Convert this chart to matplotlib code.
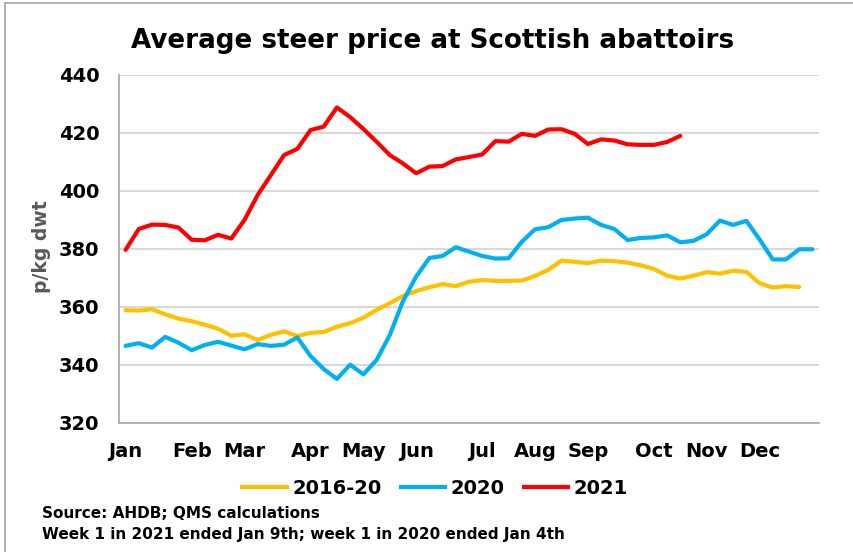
import numpy as np
import matplotlib.pyplot as plt
from matplotlib.lines import Line2D

# weekly steer prices, p/kg dwt
avg_2016_20 = [358.9, 358.8, 359.2, 357.5, 356.0, 355.1, 353.9, 352.5, 350.1, 350.6,
               348.6, 350.4, 351.6, 350.0, 351.1, 351.4, 353.2, 354.4, 356.3, 359.0,
               361.3, 363.8, 365.5, 366.8, 367.9, 367.2, 368.7, 369.3, 369.0, 369.0,
               369.1, 370.7, 372.8, 376.0, 375.6, 375.1, 376.0, 375.8, 375.3, 374.4,
               373.1, 370.8, 369.8, 370.8, 372.0, 371.5, 372.5, 372.1, 368.2, 366.7,
               367.2, 366.9]
y2020 = [346.6, 347.5, 346.0, 349.7, 347.7, 345.1, 346.9, 348.0, 346.7, 345.4,
         347.2, 346.6, 347.0, 349.5, 343.1, 338.6, 335.2, 340.1, 336.8, 341.7,
         350.3, 362.0, 370.5, 376.9, 377.6, 380.6, 379.1, 377.6, 376.7, 376.8,
         382.5, 386.8, 387.5, 390.0, 390.5, 390.8, 388.3, 386.9, 383.1, 383.8,
         384.0, 384.7, 382.3, 382.8, 385.1, 389.8, 388.3, 389.7, 383.3, 376.4,
         376.4, 379.9, 379.9]
y2021 = [379.7, 386.9, 388.4, 388.3, 387.4, 383.2, 383.0, 384.9, 383.6, 390.0,
         398.6, 405.5, 412.4, 414.5, 421.0, 422.2, 428.8, 425.5, 421.4, 417.0,
         412.4, 409.5, 406.1, 408.4, 408.6, 410.9, 411.7, 412.6, 417.2, 417.0,
         419.7, 419.0, 421.2, 421.3, 419.7, 416.2, 417.8, 417.4, 416.1, 415.9,
         415.9, 416.9, 419.0]

month_labels = ["Jan", "Feb", "Mar", "Apr", "May", "Jun",
                "Jul", "Aug", "Sep", "Oct", "Nov", "Dec"]
month_weeks = [0, 5, 9, 14, 18, 22, 27, 31, 35, 40, 44, 48]

series = [("2016-20", avg_2016_20, "#FFC000"),
          ("2020", y2020, "#00B0F0"),
          ("2021", y2021, "#FF0000")]

plt.rcParams["font.family"] = "DejaVu Sans"
plt.rcParams["font.weight"] = "bold"

fig = plt.figure(figsize=(8.54, 5.52), dpi=100)
ax = fig.add_axes([119 / 854, 1 - 423 / 552, 700 / 854, 348 / 552])

for name, vals, col in series:
    ax.plot(np.arange(len(vals)), vals, color=col, lw=3, label=name,
            solid_joinstyle="round", solid_capstyle="round")

ax.set_xlim(-0.5, 52.5)
ax.set_ylim(320, 440)
ax.set_yticks(np.arange(320, 441, 20))
ax.set_xticks(month_weeks)
ax.set_xticklabels(month_labels)
ax.tick_params(axis="both", length=0, labelsize=14, colors="black")
ax.tick_params(axis="y", pad=14)
ax.tick_params(axis="x", pad=14)
for lab in ax.get_xticklabels() + ax.get_yticklabels():
    lab.set_fontweight("bold")

ax.grid(axis="y", color="#d9d9d9", lw=1.5)
ax.set_axisbelow(True)
for s in ["top", "right"]:
    ax.spines[s].set_visible(False)
for s in ["left", "bottom"]:
    ax.spines[s].set_color("#a6a6a6")
    ax.spines[s].set_linewidth(1.2)

fig.text(42 / 854, 1 - 247 / 552, "p/kg dwt", rotation=90, ha="center",
         va="center", fontsize=13.5, fontweight="bold", color="#595959")

fig.text(433 / 854, 1 - 41 / 552, "Average steer price at Scottish abattoirs",
         ha="center", va="center", fontsize=18.8, fontweight="bold")

handles = [Line2D([], [], color=c, lw=3) for _, _, c in series]
fig.legend(handles, [n for n, _, _ in series], loc="center",
           bbox_to_anchor=(435 / 854, 1 - 488 / 552), ncol=3, frameon=False,
           prop={"size": 14, "weight": "bold"}, handlelength=2.3,
           handletextpad=0.25, columnspacing=1.0)

fig.text(42 / 854, 1 - 513 / 552, "Source: AHDB; QMS calculations",
         ha="left", va="center", fontsize=11, fontweight="bold")
fig.text(42 / 854, 1 - 535 / 552,
         "Week 1 in 2021 ended Jan 9th; week 1 in 2020 ended Jan 4th",
         ha="left", va="center", fontsize=11, fontweight="bold")

# outer frame lines
fig.add_artist(Line2D([5 / 854, 5 / 854], [0, 1 - 3 / 552],
                      transform=fig.transFigure, color="#a6a6a6", lw=1.2))
fig.add_artist(Line2D([5 / 854, 1], [1 - 3 / 552, 1 - 3 / 552],
                      transform=fig.transFigure, color="#a6a6a6", lw=1.2))

fig.savefig("out.png", dpi=100)
